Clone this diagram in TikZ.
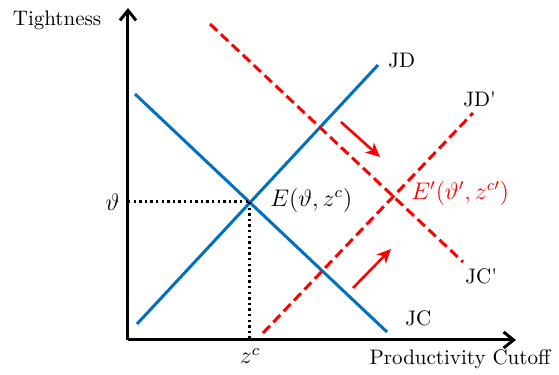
\documentclass[tikz,border=0pt]{standalone}
\usepackage{amsmath,amssymb}
\usepackage{xcolor}
\usepackage{tikz}
\usetikzlibrary{arrows.meta,positioning}

\definecolor{curveblue}{RGB}{0,112,192}

\begin{document}
\begin{tikzpicture}[
  x=0.5pt, y=-0.5pt,
  axis/.style ={line width=1.5pt, -{Straight Barb[length=5pt,width=8pt]}},
  curv/.style ={line width=1.5pt, curveblue},
  shifted/.style={line width=1.5pt, red, dash pattern=on 5pt off 2.5pt},
  guide/.style={line width=1.5pt, dash pattern=on 1.2pt off 1.6pt},
  move/.style ={line width=1.3pt, red, -{Stealth[length=7pt,width=6.5pt,inset=2pt]}},
  lbl/.style  ={font=\fontsize{10.5}{12}\selectfont, inner sep=1pt},
  mlbl/.style ={font=\fontsize{11.5}{13}\selectfont, inner sep=1pt}
]
\useasboundingbox (0,0) rectangle (559,375);

%% ── Axes ─────────────────────────────────────────────────────────────
\coordinate (O)  at (128,340);
\coordinate (yt) at (128,8);
\coordinate (xt) at (516,340);
\draw[axis] (O) -- (yt);
\draw[axis] (O) -- (xt);
\node[lbl] (ylab) at (57,20)  {Tightness};
\node[lbl] (xlab) at (460,359) {Productivity Cutoff};

%% ── Initial curves ───────────────────────────────────────────────────
\coordinate (jd0) at (137,324);
\coordinate (jd1) at (378,65);
\coordinate (jc0) at (135,94);
\coordinate (jc1) at (387,332);
\draw[curv] (jd0) -- (jd1);
\draw[curv] (jc0) -- (jc1);
\node[lbl, right=4pt of jd1, yshift=2pt] (jdlab) {JD};
\node[lbl, right=8pt of jc1, yshift=7pt] (jclab) {JC};

%% ── Equilibrium E ────────────────────────────────────────────────────
\coordinate (E)  at (250,202);
\coordinate (Ey) at (128,202);
\coordinate (Ex) at (250,340);
\draw[guide] (Ey) -- (E);
\draw[guide] (E) -- (Ex);
\node[mlbl, left=3pt of Ey]  (th) {$\vartheta$};
\node[mlbl, below=3pt of Ex] (zc) {$z^{c}$};
\node[mlbl, anchor=west] (Elab) at (268,200) {$E(\vartheta,z^{c})$};

%% ── Shifted curves ───────────────────────────────────────────────────
\coordinate (jdp0) at (263,333);
\coordinate (jdp1) at (473,113);
\coordinate (jcp0) at (210,24);
\coordinate (jcp1) at (463,262);
\draw[shifted] (jdp0) -- (jdp1);
\draw[shifted] (jcp0) -- (jcp1);
\node[lbl, above right=2pt and -6pt of jdp1] (jdplab) {JD\textquotesingle};
\node[lbl, below right=2pt and 0pt of jcp1]  (jcplab) {JC\textquotesingle};
\node[mlbl, anchor=west, red] (Eplab) at (409,193)
    {$E'(\vartheta',z^{c\prime})$};

%% ── Shift arrows ─────────────────────────────────────────────────────
\coordinate (a0) at (341,122);
\coordinate (a1) at (380,157);
\coordinate (b0) at (353,288);
\coordinate (b1) at (391,249);
\draw[move] (a0) -- (a1);
\draw[move] (b0) -- (b1);

\end{tikzpicture}
\end{document}
